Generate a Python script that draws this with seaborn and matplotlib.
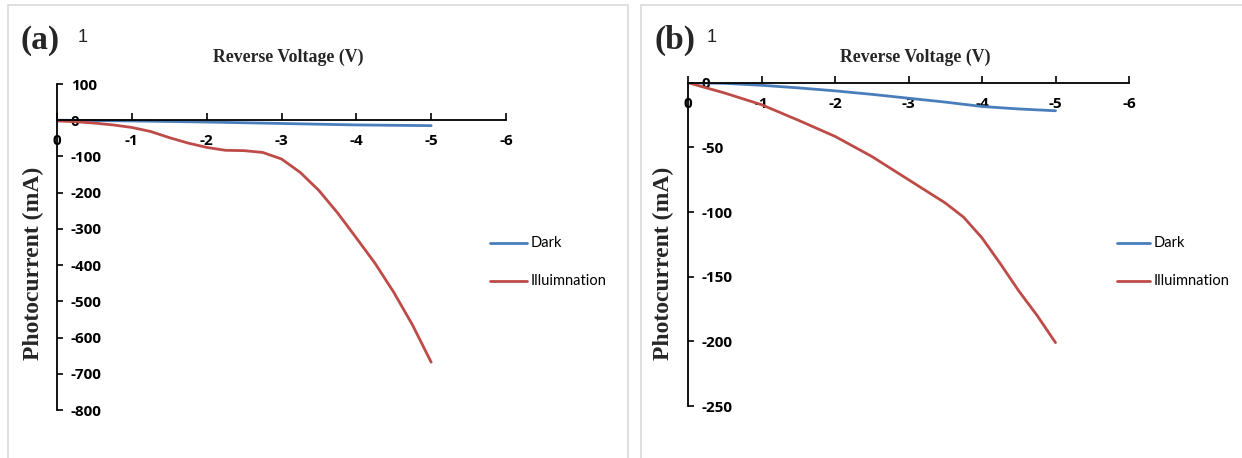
import numpy as np
import pandas as pd
import matplotlib
matplotlib.use("Agg")
import matplotlib.pyplot as plt
import seaborn as sns
from matplotlib.patches import Rectangle

sns.set_theme(style="white")
plt.rcParams['font.family'] = ['Open Sans', 'DejaVu Sans']
plt.rcParams['font.weight'] = 'bold'

# ---------------- data ----------------
# panel (a)
a_dark_v = [0, -1, -2, -3, -4, -5]
a_dark_i = [0, -2, -5, -9, -13, -15]
a_illum_v = [0, -0.25, -0.5, -0.75, -1, -1.25, -1.5, -1.75, -2, -2.25, -2.5, -2.75,
             -3, -3.25, -3.5, -3.75, -4, -4.25, -4.5, -4.75, -5]
a_illum_i = [-2, -4, -8, -13, -20, -31, -48, -63, -75, -83, -84, -89,
             -107, -144, -194, -256, -325, -395, -475, -565, -668]
# panel (b)
b_dark_v = [0, -0.5, -1, -1.5, -2, -2.5, -3, -3.5, -4, -4.5, -5]
b_dark_i = [0, -0.5, -2, -4, -6.3, -9, -12, -15, -18.4, -20.3, -21.7]
b_illum_v = [0, -0.5, -1, -1.5, -2, -2.5, -3, -3.5, -3.75, -4, -4.25, -4.5, -4.75, -5]
b_illum_i = [0, -8, -17, -29, -41.5, -57, -75, -93, -104, -120, -140, -161, -180, -201]

series_names = ["Dark", "Illuimnation"]
colors = {"Dark": "#4A7EBB", "Illuimnation": "#BE4B48"}
x_ticks = [0, -1, -2, -3, -4, -5, -6]
a_y_ticks = [100, 0, -100, -200, -300, -400, -500, -600, -700, -800]
b_y_ticks = [0, -50, -100, -150, -200, -250]

def frame(vs, is_, name):
    return pd.DataFrame({"V": vs, "I": is_, "series": name})

df_a = pd.concat([frame(a_dark_v, a_dark_i, "Dark"), frame(a_illum_v, a_illum_i, "Illuimnation")])
df_b = pd.concat([frame(b_dark_v, b_dark_i, "Dark"), frame(b_illum_v, b_illum_i, "Illuimnation")])

W, H = 1242, 458
fig = plt.figure(figsize=(W / 100, H / 100), dpi=100)
fig.patch.set_facecolor("white")

# panel frames
fig.patches.append(Rectangle((8 / W, -0.02), (628 - 8) / W, 1.02 - 5 / H,
                             transform=fig.transFigure, fill=False, edgecolor="#d9d9d9", lw=1.2))
fig.patches.append(Rectangle((641 / W, -0.02), (1260 - 641) / W, 1.02 - 5 / H,
                             transform=fig.transFigure, fill=False, edgecolor="#d9d9d9", lw=1.2))

serif_bold = dict(family="Liberation Serif", weight="bold")

def setup(ax, df, yticks, ylim):
    sns.lineplot(data=df, x="V", y="I", hue="series", hue_order=series_names,
                 palette=colors, ax=ax, linewidth=2.0, sort=False, estimator=None,
                 legend=False)
    for ln in ax.lines:
        ln.set_solid_joinstyle("round")
    ax.set_xlim(0, -6)
    ax.set_ylim(*ylim)
    ax.set_xticks(x_ticks)
    ax.set_xticklabels([str(t) for t in x_ticks])
    ax.set_yticks(yticks)
    ax.set_yticklabels([str(t) for t in yticks])
    for lab in ax.get_xticklabels() + ax.get_yticklabels():
        lab.set_fontfamily(['Open Sans', 'DejaVu Sans'])
        lab.set_fontweight('semibold')
        lab.set_fontsize(11)
    ax.set_xlabel("")
    ax.set_ylabel("")
    for s in ["top", "left"]:
        ax.spines[s].set_visible(False)
    ax.spines["bottom"].set_position(("data", 0))
    ax.spines["right"].set_position(("data", 0))
    for s in ["bottom", "right"]:
        ax.spines[s].set_color("black")
        ax.spines[s].set_linewidth(1.3)
    ax.yaxis.set_ticks_position("right")
    ax.xaxis.set_ticks_position("bottom")
    ax.tick_params(axis="x", direction="in", length=5, width=1.2, pad=10, colors="black")
    ax.tick_params(axis="y", direction="out", length=4, width=1.2, pad=6, colors="black")
    ax.set_facecolor("none")
    ax.grid(False)

# panel (a)
ax_a = fig.add_axes([57 / W, 1 - 410 / H, (506 - 57) / W, (410 - 84) / H])
setup(ax_a, df_a, a_y_ticks, (-800, 100))
# panel (b)
ax_b = fig.add_axes([688 / W, 1 - 406 / H, (1129 - 688) / W, (406 - 82.7) / H])
setup(ax_b, df_b, b_y_ticks, (-250, 0))

# texts
def px(x, y):
    return x / W, 1 - y / H

for (lx, ly), (nx, ny), (tx, ty), (yx, yy), lbl in [
        ((40, 40), (83, 38), (288, 57), (33, 263), "(a)"),
        ((675, 40), (712, 38), (915, 57), (663, 263), "(b)")]:
    fig.text(*px(lx, ly), lbl, fontsize=24, ha="center", va="center", **serif_bold)
    fig.text(*px(nx, ny), "1", fontsize=13, ha="center", va="center", family="Liberation Sans",
             weight="normal", color="#222222")
    fig.text(*px(tx, ty), "Reverse Voltage (V)", fontsize=12.8, ha="center", va="center", **serif_bold)
    fig.text(*px(yx, yy), "Photocurrent (mA)", fontsize=17, ha="center", va="center",
             rotation=90, **serif_bold)

# legends
for x0, x1 in [(490, 527), (1117, 1150)]:
    for name, yy in [("Dark", 243), ("Illuimnation", 281)]:
        fig.add_artist(plt.Line2D([x0 / W, x1 / W], [1 - yy / H, 1 - yy / H],
                                  transform=fig.transFigure, color=colors[name], lw=2.0))
        fig.text((x1 + 4) / W, 1 - yy / H, name, fontsize=10.5, va="center", ha="left",
                 family="Lato", weight="normal", color="black")

fig.savefig("out.png", dpi=100)
